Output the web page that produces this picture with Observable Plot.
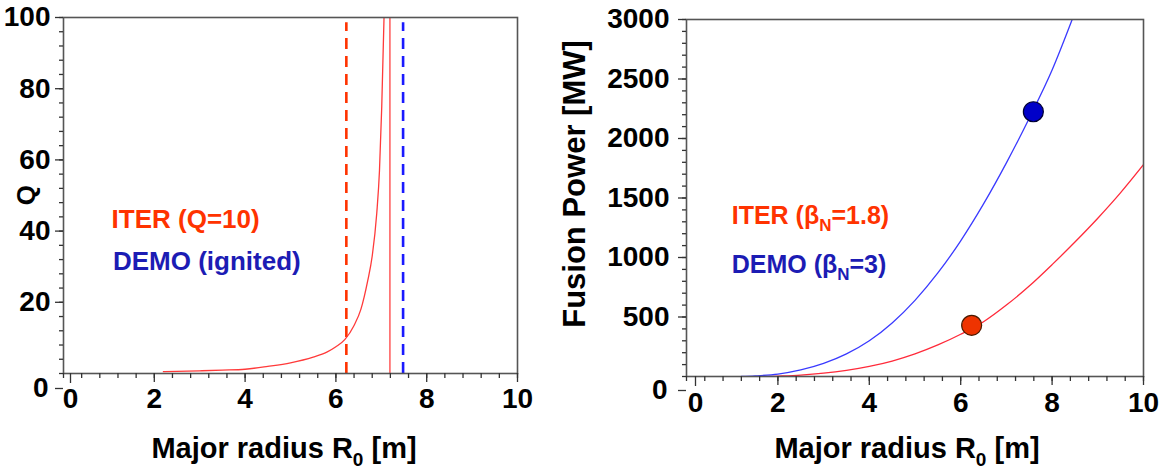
<!DOCTYPE html>
<html><head><meta charset="utf-8">
<script src="https://cdn.jsdelivr.net/npm/d3@7"></script>
<script src="https://cdn.jsdelivr.net/npm/@observablehq/plot@0.6"></script>
<style>
html,body{margin:0;padding:0;background:#fff;}
#wrap{display:flex;width:1165px;height:472px;overflow:hidden;}
</style></head><body><div id="wrap"></div>
<script>
// ---------- data ----------
// Left panel: Q versus major radius
const qRadius = [2.2, 2.5, 3.0, 3.5, 4.0, 4.5, 5.0, 5.5, 5.8, 6.0, 6.2, 6.4, 6.55, 6.7, 6.8, 6.9, 6.96, 7.01, 7.06];
const qValue  = [0.5, 0.6, 0.75, 0.95, 1.2, 2.0, 3.0, 4.6, 6.0, 7.5, 9.6, 13.5, 18, 26, 33, 45, 57, 75, 100];
const qAsymptote = [7.19];
const iterRadius = [6.23];
const demoRadius = [7.48];

// Right panel: fusion power versus major radius
const pRadiusIter = [1.8, 2.0, 2.5, 3.0, 3.5, 4.0, 4.5, 5.0, 5.5, 6.0, 6.5, 7.0, 7.5, 8.0, 8.5, 9.0, 9.5, 10.0];
const pIter       = [0, 3, 12, 28, 52, 85, 130, 190, 265, 355, 460, 600, 760, 940, 1130, 1330, 1545, 1780];
const pRadiusDemo = [1.2, 1.5, 2.0, 2.5, 3.0, 3.5, 4.0, 4.5, 5.0, 5.5, 6.0, 6.5, 7.0, 7.5, 8.0, 8.44];
const pDemo       = [0, 5, 20, 55, 110, 190, 300, 450, 640, 870, 1140, 1450, 1795, 2170, 2575, 3000];
const pointIter = {R: 6.24, P: 430};
const pointDemo = {R: 7.59, P: 2225};

// tick labels
const xMajor = [2, 4, 6, 8, 10];
const xMinor = [0,0.4,0.8,1.2,1.6,2,2.4,2.8,3.2,3.6,4,4.4,4.8,5.2,5.6,6,6.4,6.8,7.2,7.6,8,8.4,8.8,9.2,9.6,10];
const qMajor = [20, 40, 60, 80, 100];
const qMinor = [0,4,8,12,16,20,24,28,32,36,40,44,48,52,56,60,64,68,72,76,80,84,88,92,96,100];
const pMajor = [500, 1000, 1500, 2000, 2500, 3000];
const pMinor = [0,100,200,300,400,500,600,700,800,900,1000,1100,1200,1300,1400,1500,1600,1700,1800,1900,2000,2100,2200,2300,2400,2500,2600,2700,2800,2900,3000];
const zeroTick = [0];

const qData = qRadius.map((R, i) => ({R, Q: qValue[i]}));
const iterData = pRadiusIter.map((R, i) => ({R, P: pIter[i]}));
const demoData = pRadiusDemo.map((R, i) => ({R, P: pDemo[i]}));

// ---------- styles ----------
const FONT = '"Liberation Sans", Arial, Helvetica, sans-serif';
const RED = "#ff3300", BLUE = "#1c1cb4";
const TICK = "#333";
const fmt = d3.format("d");
const AX = {label: null, fontSize: 28, fontWeight: "bold", stroke: TICK, strokeWidth: 1.3, tickFormat: fmt};
const BLANK = () => "";

// ---------- left panel ----------
const left = Plot.plot({
  width: 545, height: 472,
  marginLeft: 63, marginRight: 28, marginTop: 17, marginBottom: 99,
  style: {fontFamily: FONT, fontWeight: "bold", background: "white", color: "#000"},
  x: {domain: [0, 10]},
  y: {domain: [0, 100]},
  marks: [
    Plot.ruleX(iterRadius, {stroke: RED, strokeWidth: 2.6, strokeDasharray: "11,7", y1: 0, y2: 98.5}),
    Plot.ruleX(demoRadius, {stroke: "#1a1aff", strokeWidth: 2.6, strokeDasharray: "11,7", y1: 0, y2: 98.5}),
    Plot.ruleX(qAsymptote, {stroke: "#ff4040", strokeWidth: 1.3}),
    Plot.line(qData, {x: "R", y: "Q", stroke: "#ff3a3a", strokeWidth: 1.3, curve: "monotone-x", clip: true}),
    Plot.frame({stroke: "#555", strokeWidth: 1.6}),
    Plot.axisX(xMinor, {...AX, tickSize: 5, tickFormat: BLANK}),
    Plot.axisX(xMajor, {...AX, tickSize: 9, tickPadding: 6}),
    Plot.axisX(zeroTick, {...AX, tickSize: 10, tickPadding: 5, dx: 7}),
    Plot.axisY(qMinor, {...AX, tickSize: 4, tickFormat: BLANK}),
    Plot.axisY(qMajor, {...AX, tickSize: 8, tickPadding: 5}),
    Plot.axisY(zeroTick, {...AX, tickSize: 8, tickPadding: 7, dy: 15})
  ]
});

// ---------- right panel ----------
const right = Plot.plot({
  width: 620, height: 472,
  marginLeft: 141, marginRight: 22, marginTop: 19, marginBottom: 96,
  style: {fontFamily: FONT, fontWeight: "bold", background: "white", color: "#000"},
  x: {domain: [0, 10]},
  y: {domain: [0, 3000]},
  marks: [
    Plot.line(iterData, {x: "R", y: "P", stroke: "#ff2a3a", strokeWidth: 1.3, curve: "monotone-x", clip: true}),
    Plot.line(demoData, {x: "R", y: "P", stroke: "#3a3aff", strokeWidth: 1.3, curve: "monotone-x", clip: true}),
    Plot.dot([pointIter], {x: "R", y: "P", r: 10, fill: "#ee3300", stroke: "#4a1a00", strokeWidth: 1.2}),
    Plot.dot([pointDemo], {x: "R", y: "P", r: 10, fill: "#0000c8", stroke: "#000033", strokeWidth: 1.2}),
    Plot.frame({stroke: "#555", strokeWidth: 1.6}),
    Plot.axisX(xMinor, {...AX, tickSize: 5, tickFormat: BLANK}),
    Plot.axisX(xMajor, {...AX, tickSize: 9, tickPadding: 7}),
    Plot.axisX(zeroTick, {...AX, tickSize: 10, tickPadding: 6, dx: 9}),
    Plot.axisY(pMinor, {...AX, tickSize: 4, tickFormat: BLANK}),
    Plot.axisY(pMajor, {...AX, tickSize: 8, tickPadding: 9}),
    Plot.axisY(zeroTick, {...AX, tickSize: 8, tickPadding: 11, dy: 14})
  ]
});

// ---------- rich text (subscripts) ----------
function rich(svg, x, y, parts, opt = {}) {
  const t = d3.select(svg).append("text")
    .attr("x", x).attr("y", y)
    .attr("font-family", FONT).attr("font-weight", "bold")
    .attr("font-size", opt.size || 25)
    .attr("fill", opt.fill || "#000")
    .attr("text-anchor", opt.anchor || "start");
  if (opt.rotate) t.attr("transform", `rotate(${opt.rotate},${x},${y})`);
  let shift = 0;
  for (const p of parts) {
    const s = t.append("tspan").text(p.t);
    if (p.sub) {
      s.attr("font-size", p.sub).attr("dy", p.dy);
      shift = p.dy;
    } else if (shift) {
      s.attr("dy", -shift);
      shift = 0;
    }
  }
  return t;
}

const lx = left.scale("x"), ly = left.scale("y");
rich(left, lx.apply(1.07), ly.apply(40.8), [{t: "ITER (Q=10)"}], {fill: RED, size: 26});
rich(left, lx.apply(1.1), ly.apply(29), [{t: "DEMO (ignited)"}], {fill: BLUE, size: 26});
rich(left, 284, 458, [{t: "Major radius R"}, {t: "0", sub: 19, dy: 8}, {t: " [m]"}], {size: 29, anchor: "middle"});
rich(left, 35, 195, [{t: "Q"}], {size: 26, anchor: "middle", rotate: -90});

const rx = right.scale("x"), ry = right.scale("y");
rich(right, rx.apply(1.0), ry.apply(1277), [{t: "ITER ("}, {t: "β"}, {t: "N", sub: 17, dy: 7}, {t: "=1.8)"}], {fill: RED});
rich(right, rx.apply(1.0), ry.apply(866), [{t: "DEMO ("}, {t: "β"}, {t: "N", sub: 17, dy: 7}, {t: "=3)"}], {fill: BLUE});
rich(right, 362, 458, [{t: "Major radius R"}, {t: "0", sub: 19, dy: 8}, {t: " [m]"}], {size: 29, anchor: "middle"});
rich(right, 40, 184, [{t: "Fusion Power [MW]"}], {size: 31, anchor: "middle", rotate: -90});

document.getElementById("wrap").append(left, right);
</script>
</body></html>
